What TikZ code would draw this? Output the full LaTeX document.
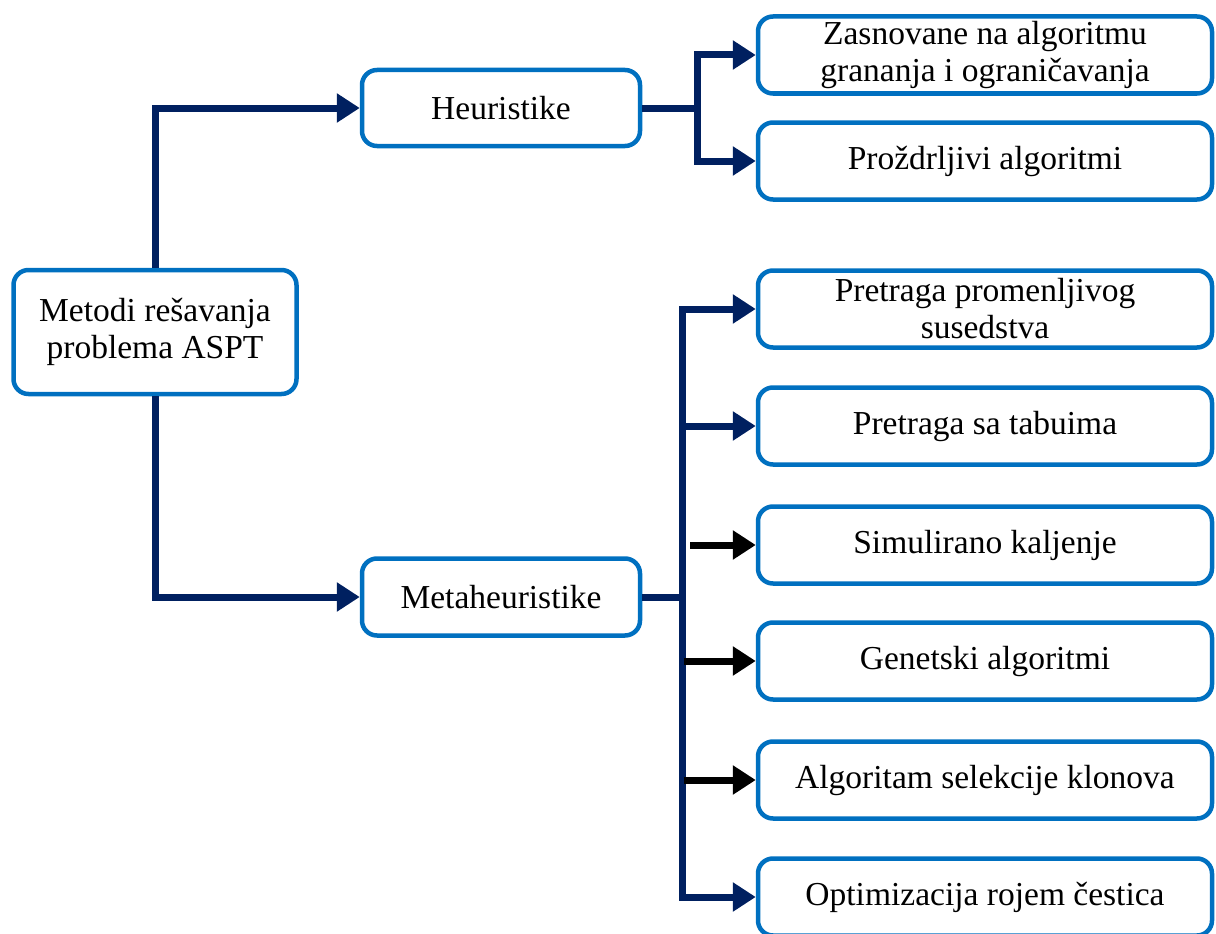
\documentclass[tikz,border=0pt]{standalone}
\usepackage{fontspec}
\setmainfont{Liberation Serif}
\usetikzlibrary{arrows.meta}
\definecolor{boxblue}{HTML}{0070C0}
\definecolor{navy}{HTML}{002060}

\begin{document}
\begin{tikzpicture}[x=1pt, y=-1pt,
    box/.style={draw=boxblue, line width=4.5pt, rounded corners=15pt, fill=white,
        align=center, inner sep=0pt, font=\fontsize{33.5}{37}\selectfont},
    leaf/.style={box, minimum width=454pt, minimum height=77pt},
    link/.style={color=navy, line width=7pt, -{Triangle[length=23pt,width=28pt]}},
    blink/.style={link, color=black}]
\useasboundingbox (0,0) rectangle (1216,934);
\node[box, minimum width=283pt, minimum height=124pt] (root) at (155,332) {Metodi rešavanja\\problema ASPT};
\node[box, minimum width=278pt, minimum height=76pt] (heur) at (501,108) {Heuristike};
\node[box, minimum width=278pt, minimum height=77pt] (meta) at (501,597) {Metaheuristike};
\foreach \name/\y/\txt in {zas/55/{Zasnovane na algoritmu\\grananja i ograničavanja},
        proz/161/{Proždrljivi algoritmi},
        pre/309/{Pretraga promenljivog\\susedstva},
        tab/426/{Pretraga sa tabuima},
        sim/545/{Simulirano kaljenje},
        gen/661/{Genetski algoritmi},
        klon/780/{Algoritam selekcije klonova},
        opt/897/{Optimizacija rojem čestica}}
    \node[leaf] (\name) at (985,\y) {\txt};
\coordinate (hj) at (697,108);
\coordinate (mj) at (682,597);
\draw[link] (root.north) |- (heur.west);
\draw[link] (root.south) |- (meta.west);
\draw[link] (heur.east) -- (hj) |- (zas.west);
\draw[link] (hj) |- (proz.west);
\draw[link] (meta.east) -- (mj) |- (pre.west);
\draw[link] (mj) |- (opt.west);
\draw[link] (mj |- tab.west) -- (tab.west);
\draw[blink] ([xshift=8pt]mj |- sim.west) -- (sim.west);
\draw[blink] ([xshift=2pt]mj |- gen.west) -- (gen.west);
\draw[blink] ([xshift=2pt]mj |- klon.west) -- (klon.west);
\end{tikzpicture}
\end{document}
